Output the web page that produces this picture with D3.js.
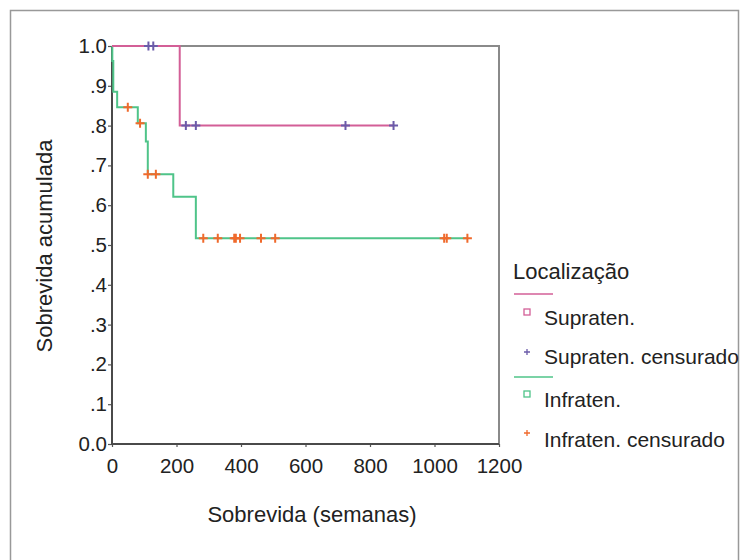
<!DOCTYPE html>
<html>
<head>
<meta charset="utf-8">
<script src="https://cdn.jsdelivr.net/npm/d3@7"></script>
<style>
  html, body { margin: 0; padding: 0; background: #fff; }
  svg { display: block; font-family: "Liberation Sans", Arial, sans-serif; }
</style>
</head>
<body>
<svg id="chart" width="740" height="560"></svg>
<script>
// ---- Data ----
const groups = ["Supraten.", "Infraten."];
const censoredLabels = ["Supraten. censurado", "Infraten. censurado"];
const legendTitle = "Localização";
const xTitle = "Sobrevida (semanas)";
const yTitle = "Sobrevida acumulada";

// Kaplan-Meier step points [weeks, cumulative survival]
const supraSteps = [[0, 1.0], [210, 0.8], [874, 0.8]];
const infraSteps = [[0, 1.0], [1, 0.962], [4, 0.885], [16, 0.846], [80, 0.806],
                    [105, 0.76], [111, 0.678], [190, 0.621], [260, 0.517], [1102, 0.517]];
// censored times (weeks)
const supraCensored = [113, 128, 229, 260, 724, 873];
const infraCensored = [49, 87, 111, 136, 283, 328, 379, 384, 397, 462, 506, 1030, 1038, 1102];

const xTicks = [0, 200, 400, 600, 800, 1000, 1200];
const yTicks = [0, 0.1, 0.2, 0.3, 0.4, 0.5, 0.6, 0.7, 0.8, 0.9, 1.0];
const yTickLabels = ["0.0", ".1", ".2", ".3", ".4", ".5", ".6", ".7", ".8", ".9", "1.0"];

const colors = { supra: "#d35f97", supraC: "#6b5ba9", infra: "#4fc489", infraC: "#f06a2c" };

// ---- Layout ----
const svg = d3.select("#chart");
const x = d3.scaleLinear().domain([0, 1200]).range([112, 499]);
const y = d3.scaleLinear().domain([0, 1]).range([444, 46]);

// outer frame
svg.append("path")
  .attr("d", "M10.5,561 V10.5 H738.5 V561")
  .attr("fill", "none").attr("stroke", "#999").attr("stroke-width", 1.5);

// plot box: top/right lighter, left/bottom darker
svg.append("path")
  .attr("d", `M${x(0)},${y(1)} H${x(1200)} V${y(0)}`)
  .attr("fill", "none").attr("stroke", "#8a8a8a").attr("stroke-width", 2);

// axes
const yAxis = d3.axisLeft(y).tickValues(yTicks)
  .tickFormat((d, i) => yTickLabels[i]).tickSize(4).tickPadding(1);
const gy = svg.append("g").attr("transform", `translate(${x(0)},0)`).call(yAxis);
const xAxis = d3.axisBottom(x).tickValues(xTicks).tickFormat(d3.format("d")).tickSize(3).tickPadding(12);
const gx = svg.append("g").attr("transform", `translate(0,${y(0)})`).call(xAxis);

[gy, gx].forEach(g => {
  g.select(".domain").remove();
  g.selectAll(".tick line").attr("stroke", "#555").attr("stroke-width", 1.2);
  g.selectAll(".tick text").attr("fill", "#222").style("font-size", "20.5px")
    .style("font-family", "'Liberation Sans', Arial, sans-serif");
});
gx.selectAll(".tick text").attr("dy", "0.68em");

svg.append("path")
  .attr("d", `M${x(0)},${y(1)} V${y(0)} H${x(1200)}`)
  .attr("fill", "none").attr("stroke", "#4a4a4a").attr("stroke-width", 2);

// curves
const line = d3.line().x(d => x(d[0])).y(d => y(d[1])).curve(d3.curveStepAfter);
function survAt(steps, t) {
  let s = steps[0][1];
  for (const p of steps) if (p[0] <= t) s = p[1];
  return s;
}
function plus(g, cx, cy, r, color, w) {
  g.append("path")
    .attr("d", `M${cx - r},${cy} H${cx + r} M${cx},${cy - r} V${cy + r}`)
    .attr("stroke", color).attr("stroke-width", w).attr("fill", "none");
}

const plot = svg.append("g");
plot.append("path").datum(infraSteps).attr("d", line)
  .attr("fill", "none").attr("stroke", colors.infra).attr("stroke-width", 2);
plot.append("path").datum(supraSteps).attr("d", line)
  .attr("fill", "none").attr("stroke", colors.supra).attr("stroke-width", 2);

infraCensored.forEach(t => plus(plot, x(t), y(survAt(infraSteps, t)), 4.5, colors.infraC, 2));
supraCensored.forEach(t => plus(plot, x(t), y(survAt(supraSteps, t)), 4.5, colors.supraC, 2));

// axis titles
svg.append("text").attr("x", 312).attr("y", 522).attr("text-anchor", "middle")
  .attr("fill", "#222").style("font-size", "22px").text(xTitle);
svg.append("text").attr("transform", "translate(52,246) rotate(-90)").attr("text-anchor", "middle")
  .attr("fill", "#222").style("font-size", "22px").text(yTitle);

// legend
const lg = svg.append("g");
lg.append("text").attr("x", 513).attr("y", 279).attr("fill", "#222")
  .style("font-size", "22px").text(legendTitle);

const legendRows = [
  { lineY: 294, sqY: 312, sqText: 325, plY: 352, plText: 364, line: colors.supra, cens: colors.supraC, k: 0 },
  { lineY: 377, sqY: 394, sqText: 407, plY: 433, plText: 447, line: colors.infra, cens: colors.infraC, k: 1 }
];
legendRows.forEach(r => {
  lg.append("line").attr("x1", 514).attr("x2", 553).attr("y1", r.lineY).attr("y2", r.lineY)
    .attr("stroke", r.line).attr("stroke-width", 1.5);
  lg.append("rect").attr("x", 524).attr("y", r.sqY - 3).attr("width", 6).attr("height", 6)
    .attr("fill", "none").attr("stroke", r.line).attr("stroke-width", 1.3);
  lg.append("text").attr("x", 544).attr("y", r.sqText).attr("fill", "#222")
    .style("font-size", "21px").text(groups[r.k]);
  plus(lg, 527, r.plY, 3, r.cens, 1.3);
  lg.append("text").attr("x", 544).attr("y", r.plText).attr("fill", "#222")
    .style("font-size", "21px").text(censoredLabels[r.k]);
});
</script>
</body>
</html>
